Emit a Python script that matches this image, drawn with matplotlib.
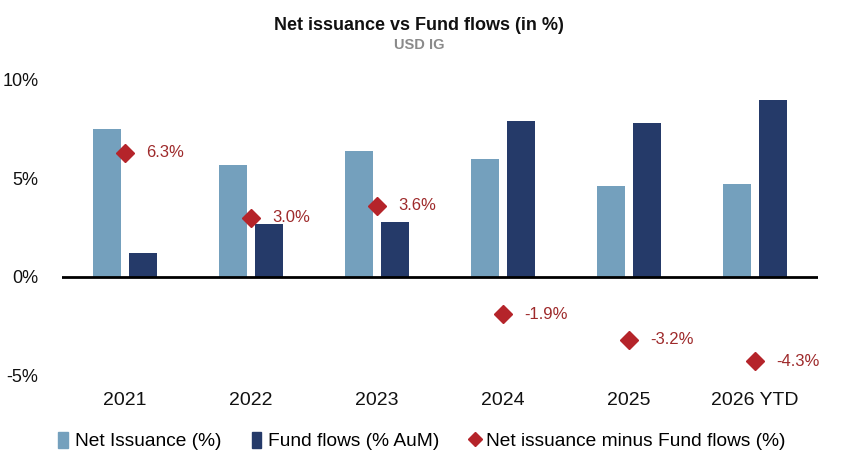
import matplotlib
matplotlib.use("Agg")
import matplotlib.pyplot as plt
import numpy as np
from matplotlib.lines import Line2D
from matplotlib.patches import Patch

categories = ["2021", "2022", "2023", "2024", "2025", "2026 YTD"]
net_issuance = [7.5, 5.7, 6.4, 6.0, 4.6, 4.7]
fund_flows = [1.2, 2.7, 2.8, 7.9, 7.8, 9.0]
diff = [6.3, 3.0, 3.6, -1.9, -3.2, -4.3]
diff_labels = ["6.3%", "3.0%", "3.6%", "-1.9%", "-3.2%", "-4.3%"]
yticks = [-5, 0, 5, 10]
ytick_labels = ["-5%", "0%", "5%", "10%"]

FONT = ["Liberation Sans", "DejaVu Sans"]
plt.rcParams['font.family'] = FONT

c_ni = "#74a0bd"
c_ff = "#253a69"
c_d = "#b5242a"
c_dt = "#9e2a2b"

fig = plt.figure(figsize=(8.42, 4.68), dpi=100)
ax = fig.add_axes([62/842, 1-375/468, (818-62)/842, (375-80)/468])

x = np.arange(len(categories))
w = 0.222
gap = 0.064
ax.bar(x - (w+gap)/2, net_issuance, width=w, color=c_ni, zorder=2)
ax.bar(x + (w+gap)/2, fund_flows, width=w, color=c_ff, zorder=2)
ax.plot(x, diff, linestyle='none', marker='D', markersize=9, color=c_d, zorder=4)
for xi, d, lab in zip(x, diff, diff_labels):
    ax.annotate(lab, (xi, d), xytext=(15, 0), textcoords='offset points',
                ha='left', va='center', fontsize=12, color=c_dt,
                annotation_clip=False)

ax.axhline(0, color='black', linewidth=2, zorder=3)
ax.set_xlim(-0.5, 5.5)
ax.set_ylim(-5, 10)
ax.set_yticks(yticks)
ax.set_yticklabels(ytick_labels)
ax.set_xticks(x)
ax.set_xticklabels(categories)
for s in ax.spines.values():
    s.set_visible(False)
ax.tick_params(axis='both', length=0, colors='#111111')
ax.tick_params(axis='y', pad=17, labelsize=13)
ax.tick_params(axis='x', pad=12, labelsize=14)

fig.text(419/842, 1-25/468, "Net issuance vs Fund flows (in %)", ha='center', va='center',
         fontsize=13, fontweight='bold', color='#111111')
fig.text(419/842, 1-45/468, "USD IG", ha='center', va='center',
         fontsize=10.5, fontweight='bold', color='#8a8a8a')

handles = [Patch(color=c_ni, label="Net Issuance (%)"),
           Patch(color=c_ff, label="Fund flows (% AuM)"),
           Line2D([], [], linestyle='none', marker='D', markersize=7, color=c_d,
                  label="Net issuance minus Fund flows (%)")]
fig.legend(handles=handles, loc='center', bbox_to_anchor=(422/842, 1-441/468), ncol=3,
           frameon=False, fontsize=13.8, handlelength=0.5, handleheight=0.9,
           handletextpad=0.35, columnspacing=1.6)

fig.savefig("out.png", dpi=100, facecolor='white')
